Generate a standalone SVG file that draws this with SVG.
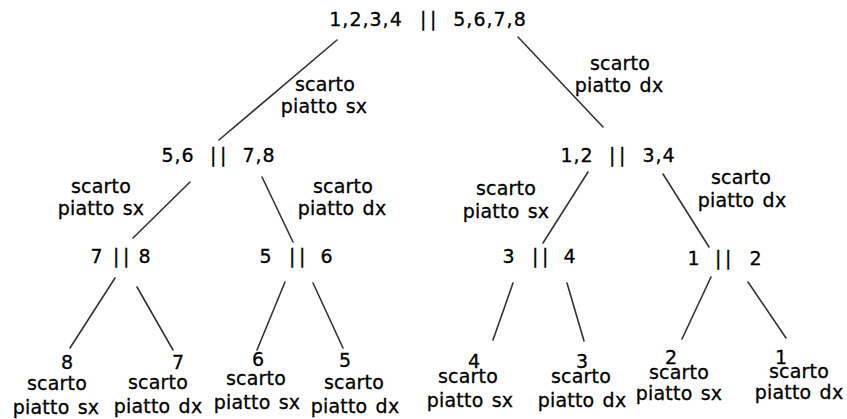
<svg xmlns="http://www.w3.org/2000/svg" width="847" height="419" viewBox="0 0 847 419">
  <style>
    text { font-family: "DejaVu Sans", Verdana, sans-serif; font-size: 19px; fill: #000; stroke: #000; stroke-width: 0.3; text-anchor: middle; }
    .num { letter-spacing: 1px; }
    .bar { letter-spacing: 3.5px; }
    .lbl { letter-spacing: 0.2px; word-spacing: 2px; }
    .edge { stroke: #333; stroke-width: 1.6; fill: none; stroke-linecap: round; }
  </style>
  <rect width="847" height="419" fill="#fff"/>

  <!-- connectors -->
  <g id="connectors">
    <line class="edge" x1="337" y1="40" x2="219" y2="140"/>
    <line class="edge" x1="518" y1="37" x2="603" y2="127"/>

    <line class="edge" x1="190" y1="182" x2="133" y2="238"/>
    <line class="edge" x1="262" y1="177" x2="293" y2="242"/>
    <line class="edge" x1="588" y1="172" x2="543" y2="243"/>
    <line class="edge" x1="663" y1="174" x2="709" y2="247"/>

    <line class="edge" x1="115" y1="278" x2="70" y2="348"/>
    <line class="edge" x1="137" y1="287" x2="173" y2="350"/>
    <line class="edge" x1="285" y1="282" x2="257" y2="350"/>
    <line class="edge" x1="313" y1="283" x2="343" y2="348"/>
    <line class="edge" x1="513" y1="283" x2="493" y2="340"/>
    <line class="edge" x1="567" y1="283" x2="584" y2="341"/>
    <line class="edge" x1="711" y1="277" x2="682" y2="339"/>
    <line class="edge" x1="748" y1="282" x2="786" y2="338"/>

    <!-- edge labels -->
    <g>
      <text class="lbl" x="325" y="91">scarto</text>
      <text class="lbl" x="324" y="113">piatto sx</text>
      <text class="lbl" x="620" y="70">scarto</text>
      <text class="lbl" x="619" y="92">piatto dx</text>

      <text class="lbl" x="101" y="193">scarto</text>
      <text class="lbl" x="101" y="215">piatto sx</text>
      <text class="lbl" x="343" y="193">scarto</text>
      <text class="lbl" x="342" y="215">piatto dx</text>
      <text class="lbl" x="506" y="195">scarto</text>
      <text class="lbl" x="506" y="218">piatto sx</text>
      <text class="lbl" x="741" y="184">scarto</text>
      <text class="lbl" x="742" y="207">piatto dx</text>
    </g>
  </g>

  <!-- root -->
  <g id="n-root">
    <text class="num" x="366" y="26">1,2,3,4</text>
    <text class="bar" x="430" y="26">||</text>
    <text class="num" x="490" y="26">5,6,7,8</text>
  </g>

  <!-- second level -->
  <g id="n-5678">
    <text class="num" x="178" y="162">5,6</text>
    <text class="bar" x="220" y="162">||</text>
    <text class="num" x="259" y="162">7,8</text>
  </g>
  <g id="n-1234">
    <text class="num" x="577" y="162">1,2</text>
    <text class="bar" x="619" y="162">||</text>
    <text class="num" x="659" y="162">3,4</text>
  </g>

  <!-- third level -->
  <g id="n-78">
    <text class="num" x="97" y="263">7</text>
    <text class="bar" x="123" y="263">||</text>
    <text class="num" x="145" y="263">8</text>
  </g>
  <g id="n-56">
    <text class="num" x="266" y="263">5</text>
    <text class="bar" x="299" y="263">||</text>
    <text class="num" x="327" y="263">6</text>
  </g>
  <g id="n-34">
    <text class="num" x="509" y="263">3</text>
    <text class="bar" x="542" y="263">||</text>
    <text class="num" x="570" y="263">4</text>
  </g>
  <g id="n-12">
    <text class="num" x="694" y="265">1</text>
    <text class="bar" x="725" y="265">||</text>
    <text class="num" x="756" y="265">2</text>
  </g>

  <!-- leaves -->
  <g id="leaf-8">
    <text x="67" y="369">8</text>
    <text class="lbl" x="57" y="390">scarto</text>
    <text class="lbl" x="56" y="414">piatto sx</text>
  </g>
  <g id="leaf-7">
    <text x="178" y="369">7</text>
    <text class="lbl" x="158" y="389">scarto</text>
    <text class="lbl" x="158" y="413">piatto dx</text>
  </g>
  <g id="leaf-6">
    <text x="258" y="366">6</text>
    <text class="lbl" x="256" y="385">scarto</text>
    <text class="lbl" x="257" y="409">piatto sx</text>
  </g>
  <g id="leaf-5">
    <text x="345" y="367">5</text>
    <text class="lbl" x="354" y="389">scarto</text>
    <text class="lbl" x="355" y="413">piatto dx</text>
  </g>
  <g id="leaf-4">
    <text x="474" y="368">4</text>
    <text class="lbl" x="468" y="383">scarto</text>
    <text class="lbl" x="470" y="407">piatto sx</text>
  </g>
  <g id="leaf-3">
    <text x="582" y="368">3</text>
    <text class="lbl" x="581" y="383">scarto</text>
    <text class="lbl" x="582" y="407">piatto dx</text>
  </g>
  <g id="leaf-2">
    <text x="671" y="364">2</text>
    <text class="lbl" x="679" y="379">scarto</text>
    <text class="lbl" x="679" y="400">piatto sx</text>
  </g>
  <g id="leaf-1">
    <text x="781" y="364">1</text>
    <text class="lbl" x="799" y="378">scarto</text>
    <text class="lbl" x="799" y="399">piatto dx</text>
  </g>
</svg>
